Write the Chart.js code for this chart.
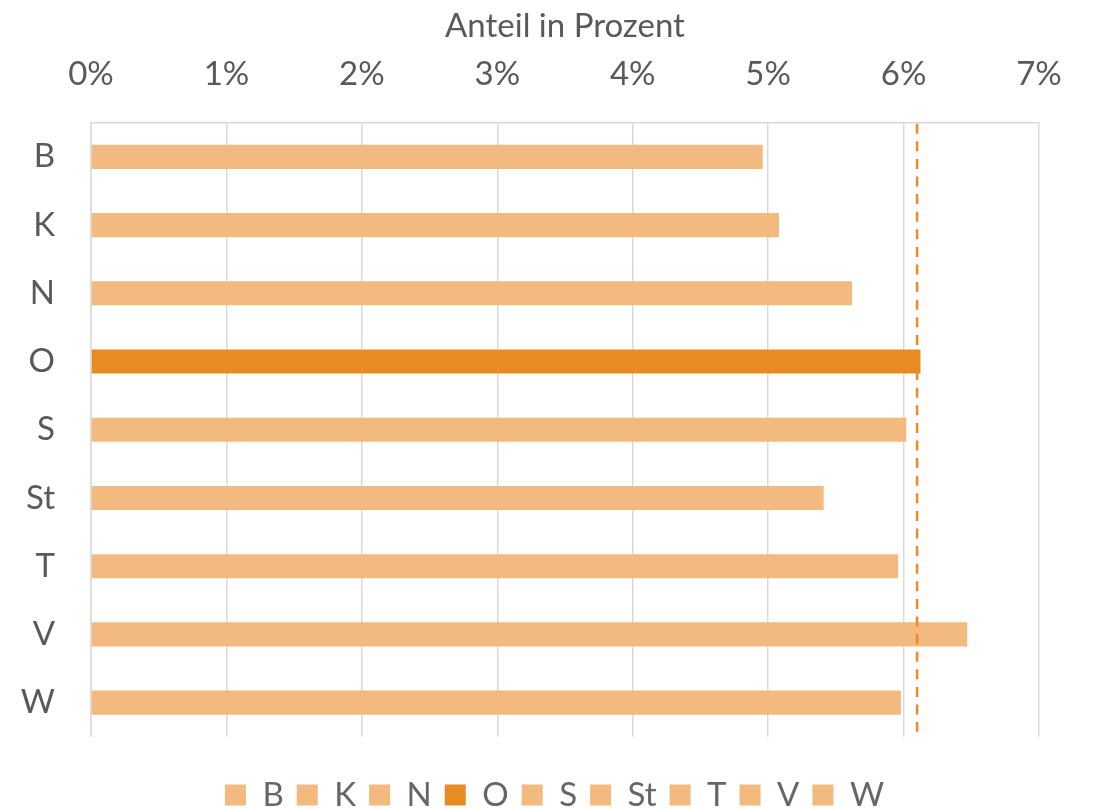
<!DOCTYPE html>
<html>
<head>
<meta charset="utf-8">
<script src="https://cdn.jsdelivr.net/npm/chart.js@4"></script>
<style>
  html, body { margin: 0; padding: 0; background: #fff; }
  #wrap { width: 1094px; height: 808px; }
</style>
</head>
<body>
<div id="wrap"><canvas id="c" width="1094" height="808"></canvas></div>
<script>
const categories = ['B', 'K', 'N', 'O', 'S', 'St', 'T', 'V', 'W'];
const shareValues = [4.96, 5.08, 5.62, 6.125, 6.02, 5.41, 5.96, 6.47, 5.98];
const referenceValue = 6.10;
const highlightCategory = 'O';
const xTicks = [0, 1, 2, 3, 4, 5, 6, 7];
const axisTitle = 'Anteil in Prozent';

const lightColor = '#F2BA7E';
const darkColor = '#E88B23';
const textColor = '#595959';
const gridColor = '#D9D9D9';
const fontFamily = 'Lato, "Open Sans", sans-serif';

const barColors = categories.map(c => c === highlightCategory ? darkColor : lightColor);

const refLinePlugin = {
  id: 'refLine',
  afterDatasetsDraw(chart) {
    const x = chart.scales.x.getPixelForValue(referenceValue);
    const { top, bottom } = chart.chartArea;
    const ctx = chart.ctx;
    ctx.save();
    ctx.strokeStyle = darkColor;
    ctx.lineWidth = 2.5;
    ctx.setLineDash([10, 7.6]);
    ctx.beginPath();
    ctx.moveTo(x, top + 1);
    ctx.lineTo(x, bottom - 5);
    ctx.stroke();
    ctx.restore();
  }
};

new Chart(document.getElementById('c'), {
  type: 'bar',
  data: {
    labels: categories,
    datasets: [{
      data: shareValues,
      backgroundColor: barColors,
      borderWidth: 0,
      categoryPercentage: 1,
      barPercentage: 0.354
    }]
  },
  options: {
    indexAxis: 'y',
    responsive: false,
    animation: false,
    devicePixelRatio: 1,
    layout: { padding: { top: 0, left: 0, right: -15, bottom: -13.5 } },
    plugins: {
      tooltip: { enabled: false },
      legend: {
        display: true,
        position: 'bottom',
        title: {
          display: true,
          text: ' ',
          font: { size: 10 },
          padding: { top: 8.35, bottom: 8.35 }
        },
        labels: {
          color: textColor,
          font: { family: fontFamily, size: 33 },
          boxWidth: 21,
          boxHeight: 21,
          padding: 13,
          generateLabels: () => categories.map((c, i) => ({
            text: c,
            fillStyle: barColors[i],
            strokeStyle: barColors[i],
            lineWidth: 0,
            hidden: false,
            index: i,
            datasetIndex: 0
          }))
        },
        onClick: () => {}
      }
    },
    scales: {
      x: {
        position: 'top',
        min: 0,
        max: 7,
        afterBuildTicks: (scale) => { scale.ticks = xTicks.map(v => ({ value: v })); },
        afterFit: (scale) => { scale.height = 122.7; },
        ticks: {
          color: textColor,
          font: { family: fontFamily, size: 33 },
          padding: 29,
          callback: (v) => v + '%'
        },
        title: {
          display: true,
          text: axisTitle,
          color: textColor,
          font: { family: fontFamily, size: 33 },
          padding: { top: 6.5, bottom: 0 }
        },
        grid: {
          color: gridColor,
          lineWidth: 1.5,
          drawTicks: false
        },
        border: { display: true, color: gridColor, width: 1.5 }
      },
      y: {
        afterFit: (scale) => { scale.width = 91; },
        ticks: {
          color: textColor,
          font: { family: fontFamily, size: 33 },
          padding: 36
        },
        grid: { display: false, drawTicks: false },
        border: { display: true, color: gridColor, width: 1.5 }
      },
      yRight: {
        type: 'category',
        labels: categories,
        position: 'right',
        afterFit: (scale) => { scale.width = 70; },
        ticks: { display: false },
        grid: { display: false, drawTicks: false },
        border: { display: false }
      }
    }
  },
  plugins: [refLinePlugin]
});
</script>
</body>
</html>
